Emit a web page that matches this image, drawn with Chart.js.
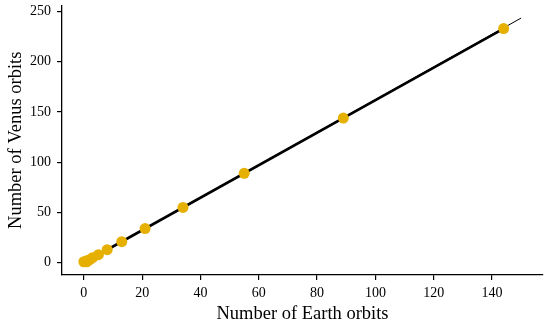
<!DOCTYPE html>
<html>
<head>
<meta charset="utf-8">
<script src="https://cdn.jsdelivr.net/npm/chart.js@4/dist/chart.umd.min.js"></script>
<style>
  html, body { margin: 0; padding: 0; background: #fff; }
  #wrap { width: 550px; height: 324px; }
</style>
</head>
<body>
<div id="wrap"><canvas id="chart" width="550" height="324"></canvas></div>
<script>
// Fibonacci pairs: Earth orbits vs Venus orbits
const earthOrbits = [0, 1, 1, 2, 3, 5, 8, 13, 21, 34, 55, 89, 144];
const venusOrbits = [1, 1, 2, 3, 5, 8, 13, 21, 34, 55, 89, 144, 233];

// thick line through the data, thin line extends a bit further
const thickLineX = [0, 144];
const thickLineY = [0, 233];
const thinLineX = [0, 150];
const thinLineY = [0, 243.5];

const xTicks = [0, 20, 40, 60, 80, 100, 120, 140];
const yTicks = [0, 50, 100, 150, 200, 250];

const serif = "'Liberation Serif', 'DejaVu Serif', serif";
const gold = '#e6b000';

const toPts = (xs, ys) => xs.map((x, i) => ({ x: x, y: ys[i] }));

document.addEventListener('DOMContentLoaded', () => {
    const ctx = document.getElementById('chart').getContext('2d');

    new Chart(ctx, {
        type: 'scatter',
        data: {
            datasets: [
                {
                    type: 'scatter',
                    data: toPts(earthOrbits, venusOrbits),
                    backgroundColor: gold,
                    borderColor: gold,
                    pointRadius: 5.5,
                    borderWidth: 0,
                    order: 0
                },
                {
                    type: 'line',
                    data: toPts(thickLineX, thickLineY),
                    borderColor: '#000',
                    borderWidth: 2.6,
                    pointRadius: 0,
                    fill: false,
                    order: 1
                },
                {
                    type: 'line',
                    data: toPts(thinLineX, thinLineY),
                    borderColor: '#000',
                    borderWidth: 1,
                    pointRadius: 0,
                    fill: false,
                    order: 2
                }
            ]
        },
        options: {
            responsive: false,
            animation: false,
            layout: { padding: { top: 5, right: 7, left: 0, bottom: 0 } },
            plugins: {
                legend: { display: false },
                tooltip: { enabled: false }
            },
            scales: {
                x: {
                    type: 'linear',
                    min: -7.5,
                    max: 157.5,
                    afterBuildTicks: axis => { axis.ticks = xTicks.map(v => ({ value: v })); },
                    afterFit: scale => { scale.height = 49; scale.paddingLeft = 0; scale.paddingRight = 0; },
                    border: { display: true, color: '#000', width: 1.3 },
                    grid: { display: true, drawOnChartArea: false, drawTicks: true, tickLength: 5, color: '#000', lineWidth: 1.2 },
                    ticks: { color: '#000', font: { family: serif, size: 14 }, padding: 5, maxRotation: 0 },
                    title: { display: true, text: 'Number of Earth orbits', color: '#000', font: { family: serif, size: 18.5 }, padding: { top: 3, bottom: -1 } }
                },
                y: {
                    type: 'linear',
                    min: -12.2,
                    max: 256,
                    afterBuildTicks: axis => { axis.ticks = yTicks.map(v => ({ value: v })); },
                    afterFit: scale => { scale.width = 62; scale.paddingTop = 0; scale.paddingBottom = 0; },
                    border: { display: true, color: '#000', width: 1.3 },
                    grid: { display: true, drawOnChartArea: false, drawTicks: true, tickLength: 5, color: '#000', lineWidth: 1.2 },
                    ticks: { color: '#000', font: { family: serif, size: 14 }, padding: 6 },
                    title: { display: true, text: 'Number of Venus orbits', color: '#000', font: { family: serif, size: 18.5 }, padding: { top: 5.5, bottom: 0 } }
                }
            }
        }
    });
});
</script>
</body>
</html>
